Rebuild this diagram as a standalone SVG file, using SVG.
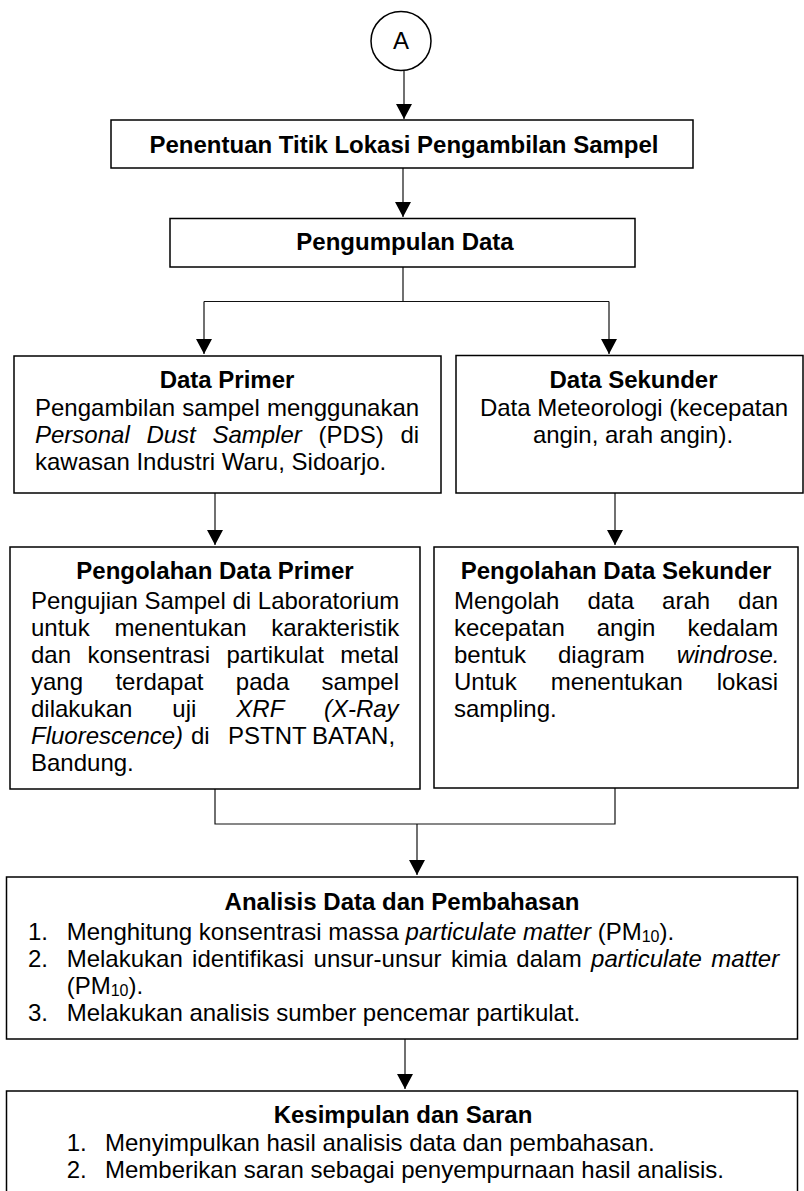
<svg xmlns="http://www.w3.org/2000/svg" width="804" height="1191" viewBox="0 0 804 1191">
<style>
.box{fill:#fff;stroke:#000;stroke-width:1.5}
.ln{fill:none;stroke:#111;stroke-width:1.2}
.t{font-family:"Liberation Sans",Arial,sans-serif;font-size:24px;fill:#000}
.b{font-weight:bold;text-anchor:middle}
.c{text-anchor:middle}
.i{font-style:italic}
</style>
<defs>
<marker id="ah" markerUnits="userSpaceOnUse" markerWidth="15" markerHeight="16" viewBox="0 0 15 16" refX="15" refY="8" orient="auto">
<path d="M0,0 L15,8 L0,16 Z" fill="#000"/>
</marker>
</defs>
<rect width="804" height="1191" fill="#fff"/>

<g id="connectors">
<line class="ln" x1="404" y1="71" x2="404" y2="119" marker-end="url(#ah)"/>
<line class="ln" x1="403" y1="168" x2="403" y2="217" marker-end="url(#ah)"/>
<polyline class="ln" points="403,267 403,301.5"/>
<polyline class="ln" points="204,301.5 609,301.5"/>
<line class="ln" x1="204" y1="301.5" x2="204" y2="354" marker-end="url(#ah)"/>
<line class="ln" x1="609" y1="301.5" x2="609" y2="354" marker-end="url(#ah)"/>
<line class="ln" x1="215" y1="493" x2="215" y2="545" marker-end="url(#ah)"/>
<line class="ln" x1="615" y1="493" x2="615" y2="545" marker-end="url(#ah)"/>
<polyline class="ln" points="215,789 215,824 615,824 615,788"/>
<line class="ln" x1="417" y1="824" x2="417" y2="875" marker-end="url(#ah)"/>
<line class="ln" x1="405" y1="1039" x2="405" y2="1089" marker-end="url(#ah)"/>
</g>

<g id="node-a">
<ellipse class="box" cx="401" cy="41" rx="30" ry="29.5"/>
<text class="t c" x="401" y="49">A</text>
</g>

<g id="node-penentuan">
<rect class="box" x="111" y="120" width="582" height="48"/>
<text class="t b" x="404" y="153">Penentuan Titik Lokasi Pengambilan Sampel</text>
</g>

<g id="node-pengumpulan">
<rect class="box" x="170" y="218.5" width="465" height="48.5"/>
<text class="t b" x="405" y="250">Pengumpulan Data</text>
</g>

<g id="node-data-primer">
<rect class="box" x="14" y="356" width="427" height="137"/>
<text class="t b" x="227" y="388">Data Primer</text>
<text class="t" x="35" y="416" style="word-spacing:0.6px">Pengambilan sampel menggunakan</text>
<text class="t" x="35" y="443" style="word-spacing:10px"><tspan class="i">Personal Dust Sampler</tspan> (PDS) di</text>
<text class="t" x="35" y="470">kawasan Industri Waru, Sidoarjo.</text>
</g>

<g id="node-data-sekunder">
<rect class="box" x="456" y="355.5" width="347" height="137.5"/>
<text class="t b" x="633.5" y="388">Data Sekunder</text>
<text class="t c" x="634" y="416">Data Meteorologi (kecepatan</text>
<text class="t c" x="633" y="443">angin, arah angin).</text>
</g>

<g id="node-pengolahan-primer">
<rect class="box" x="10" y="547" width="410" height="242"/>
<text class="t b" x="215" y="579">Pengolahan Data Primer</text>
<text class="t" x="31" y="609">Pengujian Sampel di Laboratorium</text>
<text class="t" x="31" y="636" style="word-spacing:18px">untuk menentukan karakteristik</text>
<text class="t" x="31" y="663" style="word-spacing:9.7px">dan konsentrasi partikulat metal</text>
<text class="t" x="31" y="690" style="word-spacing:25.7px">yang terdapat pada sampel</text>
<text class="t" x="31" y="717" style="word-spacing:33.3px">dilakukan uji <tspan class="i">XRF (X-Ray</tspan></text>
<text class="t" x="31" y="744"><tspan class="i">Fluorescence)</tspan><tspan x="191">di</tspan><tspan x="228">PSTNT</tspan><tspan x="312">BATAN,</tspan></text>
<text class="t" x="31" y="771">Bandung.</text>
</g>

<g id="node-pengolahan-sekunder">
<rect class="box" x="434" y="547" width="364" height="241"/>
<text class="t b" x="616" y="579">Pengolahan Data Sekunder</text>
<text class="t" x="454" y="609" style="word-spacing:21.3px">Mengolah data arah dan</text>
<text class="t" x="454" y="636" style="word-spacing:25.3px">kecepatan angin kedalam</text>
<text class="t" x="454" y="663" style="word-spacing:25.3px">bentuk diagram <tspan class="i">windrose.</tspan></text>
<text class="t" x="454" y="690" style="word-spacing:27.3px">Untuk menentukan lokasi</text>
<text class="t" x="454" y="717">sampling.</text>
</g>

<g id="node-analisis">
<rect class="box" x="6.5" y="877" width="791" height="162"/>
<text class="t b" x="402" y="910">Analisis Data dan Pembahasan</text>
<text class="t" x="28" y="940">1.</text>
<text class="t" x="66.7" y="940">Menghitung konsentrasi massa <tspan class="i">particulate matter</tspan> (PM<tspan font-size="16" dy="2">10</tspan><tspan dy="-2">).</tspan></text>
<text class="t" x="28" y="967">2.</text>
<text class="t" x="66.7" y="967" style="word-spacing:2.7px">Melakukan identifikasi unsur-unsur kimia dalam <tspan class="i">particulate matter</tspan></text>
<text class="t" x="66.7" y="994">(PM<tspan font-size="16" dy="2">10</tspan><tspan dy="-2">).</tspan></text>
<text class="t" x="28" y="1021">3.</text>
<text class="t" x="66.7" y="1021">Melakukan analisis sumber pencemar partikulat.</text>
</g>

<g id="node-kesimpulan">
<rect class="box" x="6.5" y="1091" width="791" height="130"/>
<text class="t b" x="403" y="1123">Kesimpulan dan Saran</text>
<text class="t" x="66.7" y="1151">1.</text>
<text class="t" x="105" y="1151">Menyimpulkan hasil analisis data dan pembahasan.</text>
<text class="t" x="66.7" y="1178">2.</text>
<text class="t" x="105" y="1178">Memberikan saran sebagai penyempurnaan hasil analisis.</text>
</g>
</svg>
